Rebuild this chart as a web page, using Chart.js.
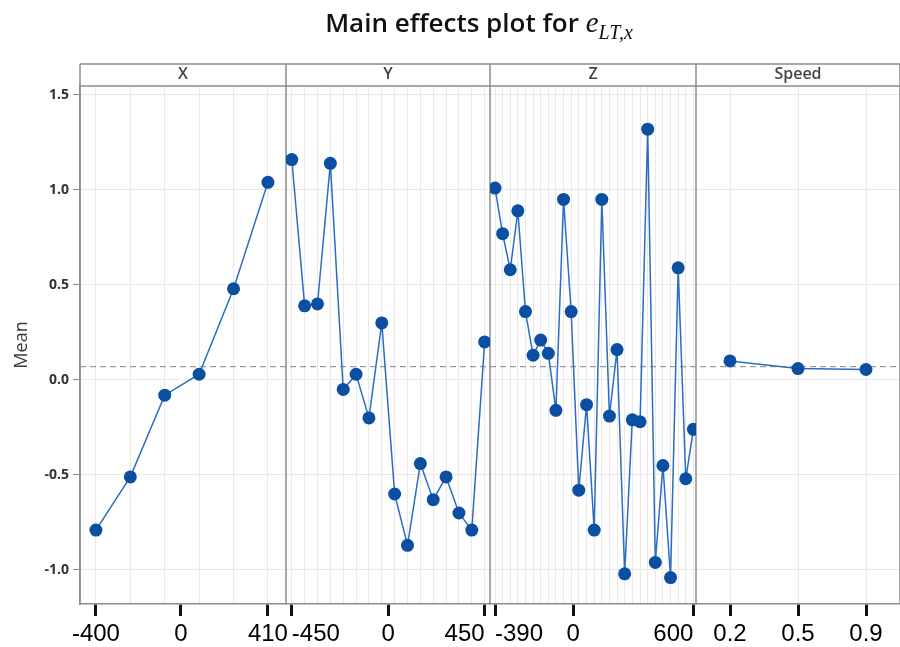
<!DOCTYPE html>
<html>
<head>
<meta charset="utf-8">
<script src="https://cdn.jsdelivr.net/npm/chart.js@4.4.1/dist/chart.umd.min.js"></script>
<style>
  body { margin: 0; background: #fff; }
  #wrap { position: relative; width: 900px; height: 647px; }
  #title {
    position: absolute; top: 4px; left: 0; width: 900px; padding-left: 58px;
    box-sizing: border-box; text-align: center;
    font: 600 26px "Open Sans", sans-serif; color: #111;
  }
  #title .m { font-family: "Liberation Serif", serif; font-style: italic; font-weight: normal; font-size: 29px; }
  #title sub { font-size: 20px; }
</style>
</head>
<body>
<div id="wrap">
  <canvas id="effectsChart"></canvas>
  <div id="title">Main effects plot for <span class="m">e<sub>LT,x</sub></span></div>
</div>
<script>
// factor levels and mean response
const xLevels = [-400, -238, -76, 86, 248, 410];
const xMeans = [-0.79, -0.51, -0.08, 0.03, 0.48, 1.04];
const xTicks = [-400, 0, 410];

const yLevels = [-450, -390, -330, -270, -210, -150, -90, -30, 30, 90, 150, 210, 270, 330, 390, 450];
const yMeans = [1.16, 0.39, 0.40, 1.14, -0.05, 0.03, -0.20, 0.30, -0.60, -0.87, -0.44, -0.63, -0.51, -0.70, -0.79, 0.20];
const yTicks = [-450, 0, 450];

const zLevels = [-390, -352, -314, -276, -238, -200, -162, -124, -86, -48, -10, 28, 67, 105,
  143, 181, 219, 257, 295, 334, 372, 410, 448, 486, 524, 562, 600];
const zMeans = [1.01, 0.77, 0.58, 0.89, 0.36, 0.13, 0.21, 0.14, -0.16, 0.95, 0.36, -0.58, -0.13, -0.79,
  0.95, -0.19, 0.16, -1.02, -0.21, -0.22, 1.32, -0.96, -0.45, -1.04, 0.59, -0.52, -0.26];
const zTicks = [-390, 0, 600];

const speedLevels = ['0.2', '0.5', '0.9'];
const speedMeans = [0.10, 0.06, 0.055];

const panelNames = ['X', 'Y', 'Z', 'Speed'];
const meanTicks = [-1.0, -0.5, 0.0, 0.5, 1.0, 1.5];
const grandMean = 0.07;

const panelIds = ['xX', 'xY', 'xZ', 'xS'];
const panelWeights = [206, 204, 206, 204];

const markColor = '#0b4fa3';
const lineColor = '#2c6dc2';
const frameColor = '#8c8c8c';
const gridColor = '#e9e9e9';

function toPoints(levels, means) {
  return levels.map((v, i) => ({ x: v, y: means[i] }));
}

function series(data, axisId) {
  return {
    data: data,
    xAxisID: axisId,
    yAxisID: 'y',
    borderColor: lineColor,
    borderWidth: 1.5,
    pointRadius: 6.5,
    pointBackgroundColor: markColor,
    pointBorderColor: markColor,
    pointBorderWidth: 0,
    tension: 0
  };
}

function fitBottom(scale) {
  scale.height = 43;
  scale.paddingLeft = 0;
  scale.paddingRight = 0;
}

// one bottom axis per panel, all in the same stack so they sit side by side
function levelAxis(levels, labelTicks, weight, min, max, align) {
  return {
    type: 'linear',
    position: 'bottom',
    stack: 'panels',
    stackWeight: weight,
    min: min,
    max: max,
    afterBuildTicks: scale => {
      const vals = [...new Set([...levels, ...labelTicks])].sort((a, b) => a - b);
      scale.ticks = vals.map(v => ({ value: v }));
    },
    afterFit: fitBottom,
    grid: {
      color: ctx => levels.includes(ctx.tick.value) ? gridColor : 'transparent',
      tickColor: ctx => labelTicks.includes(ctx.tick.value) ? '#111' : 'transparent',
      tickWidth: 3,
      tickLength: 12
    },
    border: { color: frameColor, width: 1.5 },
    ticks: {
      autoSkip: false,
      maxRotation: 0,
      minRotation: 0,
      padding: 4,
      align: align,
      color: '#000',
      font: { family: '"Liberation Sans", Arial', size: 24 },
      callback: v => labelTicks.includes(v) ? String(v) : ''
    }
  };
}

function stripAxis(name, weight) {
  return {
    type: 'linear',
    position: 'top',
    stack: 'strips',
    stackWeight: weight,
    afterFit: scale => { scale.height = 22; scale.paddingLeft = 0; scale.paddingRight = 0; },
    grid: { display: false },
    border: { display: false },
    ticks: { display: false },
    title: {
      display: true,
      text: name,
      color: '#444',
      font: { family: '"Open Sans"', size: 16, weight: 600 },
      padding: { top: 1, bottom: 0 }
    }
  };
}

// panel frames, strip boxes and the dashed overall mean line
const panelFrame = {
  id: 'panelFrame',
  beforeDatasetsDraw(chart) {
    const { ctx, chartArea, scales } = chart;
    const stripTop = scales.sX.top;
    const yRef = scales.y.getPixelForValue(grandMean);
    ctx.save();
    ctx.strokeStyle = '#9a9a9a';
    ctx.lineWidth = 1.3;
    ctx.setLineDash([6, 4]);
    ctx.beginPath();
    ctx.moveTo(chartArea.left, yRef);
    ctx.lineTo(chartArea.right, yRef);
    ctx.stroke();
    ctx.setLineDash([]);
    ctx.strokeStyle = frameColor;
    ctx.lineWidth = 1.5;
    ctx.beginPath();
    ctx.moveTo(chartArea.left, stripTop);
    ctx.lineTo(chartArea.right, stripTop);
    ctx.moveTo(chartArea.left, chartArea.top);
    ctx.lineTo(chartArea.right, chartArea.top);
    ctx.moveTo(chartArea.left, stripTop);
    ctx.lineTo(chartArea.left, chartArea.bottom);
    panelIds.forEach(id => {
      const r = scales[id].right;
      ctx.moveTo(r, stripTop);
      ctx.lineTo(r, chartArea.bottom);
    });
    ctx.stroke();
    ctx.restore();
  }
};

const ctx = document.getElementById('effectsChart').getContext('2d');
const effectsChart = new Chart(ctx, {
  type: 'line',
  data: {
    datasets: [
      series(toPoints(xLevels, xMeans), 'xX'),
      series(toPoints(yLevels, yMeans), 'xY'),
      series(toPoints(zLevels, zMeans), 'xZ'),
      series(speedMeans, 'xS')
    ]
  },
  options: {
    responsive: true,
    maintainAspectRatio: false,
    animation: false,
    devicePixelRatio: 1,
    layout: { autoPadding: false, padding: { top: 64, right: 0, left: 0, bottom: 0 } },
    plugins: {
      legend: { display: false },
      tooltip: { enabled: false }
    },
    scales: {
      xX: levelAxis(xLevels, xTicks, panelWeights[0], -475, 495, 'center'),
      xY: levelAxis(yLevels, yTicks, panelWeights[1], -477, 475, 'inner'),
      xZ: levelAxis(zLevels, zTicks, panelWeights[2], -415, 613, 'inner'),
      xS: {
        type: 'category',
        labels: speedLevels,
        position: 'bottom',
        stack: 'panels',
        stackWeight: panelWeights[3],
        offset: true,
        afterFit: fitBottom,
        grid: { color: gridColor, tickColor: '#111', tickWidth: 3, tickLength: 12 },
        border: { color: frameColor, width: 1.5 },
        ticks: {
          maxRotation: 0,
          minRotation: 0,
          padding: 4,
          color: '#000',
          font: { family: '"Liberation Sans", Arial', size: 24 }
        }
      },
      // top stacks are laid out right to left, so the strips go in reverse
      sS: stripAxis(panelNames[3], panelWeights[3]),
      sZ: stripAxis(panelNames[2], panelWeights[2]),
      sY: stripAxis(panelNames[1], panelWeights[1]),
      sX: stripAxis(panelNames[0], panelWeights[0]),
      y: {
        type: 'linear',
        position: 'left',
        min: -1.179,
        max: 1.547,
        afterBuildTicks: scale => { scale.ticks = meanTicks.map(v => ({ value: v })); },
        afterFit: scale => { scale.width = 80; },
        grid: { color: gridColor, tickColor: frameColor, tickLength: 7 },
        border: { color: frameColor, width: 1.5 },
        ticks: {
          padding: 4,
          color: '#333',
          font: { family: '"Open Sans"', size: 14, weight: 'bold' },
          callback: v => v.toFixed(1)
        },
        title: {
          display: true,
          text: 'Mean',
          color: '#3a3a3a',
          font: { family: '"Open Sans"', size: 18 },
          padding: { top: 11, bottom: 0 }
        }
      }
    }
  },
  plugins: [panelFrame]
});
</script>
</body>
</html>
